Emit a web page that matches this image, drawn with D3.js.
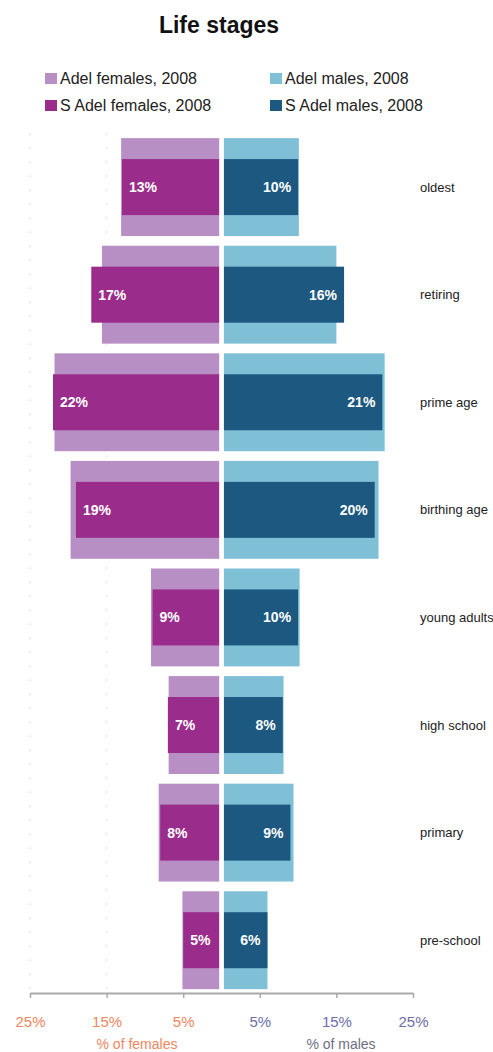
<!DOCTYPE html>
<html>
<head>
<meta charset="utf-8">
<script src="https://cdn.jsdelivr.net/npm/d3@7"></script>
<style>
  html, body { margin: 0; padding: 0; background: #fff; }
  svg { display: block; font-family: "Liberation Sans", Arial, sans-serif; }
</style>
</head>
<body>
<svg id="chart" width="493" height="1052"></svg>
<script>
// Life stages, share of population by sex (%)
const stages = ["oldest", "retiring", "prime age", "birthing age", "young adults", "high school", "primary", "pre-school"];
const adelFemales  = [13.1, 15.6, 21.8, 19.7, 9.2, 6.9, 8.2, 5.1];
const adelMales    = [10.1, 15.0, 21.3, 20.5, 10.2, 8.1, 9.4, 6.0];
const sAdelFemales = [13, 17, 22, 19, 9, 7, 8, 5];
const sAdelMales   = [10, 16, 21, 20, 10, 8, 9, 6];
const axisTicks = [-25, -15, -5, 5, 15, 25];
const legendNames = ["Adel females, 2008", "Adel males, 2008", "S Adel females, 2008", "S Adel males, 2008"];

const colors = {
  adelF: "#b78fc4",
  sAdelF: "#9a2c8b",
  adelM: "#80c0d7",
  sAdelM: "#1c5880",
  femaleAxis: "#ee8660",
  maleAxis: "#6d6dab"
};

const svg = d3.select("#chart");
const plotTop = 133.3, plotBottom = 994;

const x = d3.scaleLinear().domain([-25, 25]).range([30, 413]);
const y = d3.scaleBand().domain(stages).range([plotTop, plotBottom])
  .paddingInner(0.09).paddingOuter(0.045);
const innerRatio = 0.572;

// Title
svg.append("text")
  .attr("x", 219).attr("y", 33)
  .attr("text-anchor", "middle")
  .attr("font-size", 23).attr("font-weight", "bold").attr("fill", "#111")
  .text("Life stages");

// Legend
const legendItems = [
  { name: legendNames[0], color: colors.adelF, lx: 45, ly: 73 },
  { name: legendNames[1], color: colors.adelM, lx: 270, ly: 73 },
  { name: legendNames[2], color: colors.sAdelF, lx: 45, ly: 100 },
  { name: legendNames[3], color: colors.sAdelM, lx: 270, ly: 100 }
];
const lg = svg.append("g").selectAll("g").data(legendItems).join("g")
  .attr("transform", d => `translate(${d.lx},${d.ly})`);
lg.append("rect").attr("width", 12).attr("height", 11).attr("fill", d => d.color);
lg.append("text").attr("x", 15).attr("y", 10.5)
  .attr("font-size", 16).attr("fill", "#222").text(d => d.name);

// Faint guides on the female side
svg.append("g").selectAll("line").data([-25, -15]).join("line")
  .attr("x1", d => x(d)).attr("x2", d => x(d))
  .attr("y1", plotTop).attr("y2", plotBottom - 4)
  .attr("stroke", "#e4e4e4").attr("stroke-width", 1.5)
  .attr("stroke-dasharray", "2,12");

const rows = stages.map((s, i) => ({
  stage: s,
  adelF: adelFemales[i], adelM: adelMales[i],
  sAdelF: sAdelFemales[i], sAdelM: sAdelMales[i]
}));

const bars = svg.append("g");
const bw = y.bandwidth();
const ih = bw * innerRatio;
const io = (bw - ih) / 2;

// Adelaide (wide, light) bars
bars.selectAll(".adelF").data(rows).join("rect").attr("class", "adelF")
  .attr("x", d => x(-d.adelF)).attr("width", d => x(0) - x(-d.adelF))
  .attr("y", d => y(d.stage)).attr("height", bw).attr("fill", colors.adelF);
bars.selectAll(".adelM").data(rows).join("rect").attr("class", "adelM")
  .attr("x", x(0)).attr("width", d => x(d.adelM) - x(0))
  .attr("y", d => y(d.stage)).attr("height", bw).attr("fill", colors.adelM);

// South Adelaide (narrow, dark) bars
bars.selectAll(".sAdelF").data(rows).join("rect").attr("class", "sAdelF")
  .attr("x", d => x(-d.sAdelF)).attr("width", d => x(0) - x(-d.sAdelF))
  .attr("y", d => y(d.stage) + io).attr("height", ih).attr("fill", colors.sAdelF);
bars.selectAll(".sAdelM").data(rows).join("rect").attr("class", "sAdelM")
  .attr("x", x(0)).attr("width", d => x(d.sAdelM) - x(0))
  .attr("y", d => y(d.stage) + io).attr("height", ih).attr("fill", colors.sAdelM);

// White divider between the two halves
svg.append("rect")
  .attr("x", x(0) - 2.3).attr("width", 4.7)
  .attr("y", plotTop).attr("height", plotBottom - plotTop - 1)
  .attr("fill", "#fff");

// Value labels inside dark bars
const labels = svg.append("g").attr("font-size", 14).attr("font-weight", "bold").attr("fill", "#fff");
labels.selectAll(".lf").data(rows).join("text").attr("class", "lf")
  .attr("x", d => x(-d.sAdelF) + 7)
  .attr("y", d => y(d.stage) + bw / 2)
  .attr("dy", "0.36em")
  .text(d => d3.format(".0f")(d.sAdelF) + "%");
labels.selectAll(".lm").data(rows).join("text").attr("class", "lm")
  .attr("x", d => x(d.sAdelM) - 7)
  .attr("y", d => y(d.stage) + bw / 2)
  .attr("dy", "0.36em")
  .attr("text-anchor", "end")
  .text(d => d3.format(".0f")(d.sAdelM) + "%");

// Stage names
svg.append("g").selectAll("text").data(stages).join("text")
  .attr("x", 420)
  .attr("y", d => y(d) + bw / 2)
  .attr("dy", "0.35em")
  .attr("font-size", 13).attr("fill", "#222")
  .text(d => d);

// Bottom axis
const axis = svg.append("g")
  .attr("transform", `translate(0,${plotBottom - 1})`)
  .call(d3.axisBottom(x).tickValues(axisTicks).tickSize(5).tickSizeOuter(0).tickPadding(18)
    .tickFormat(d => Math.abs(d) + "%"));
axis.select(".domain").attr("stroke", "#a9a9a9").attr("stroke-width", 2);
axis.selectAll(".tick line").attr("stroke", "#a9a9a9").attr("stroke-width", 1.5);
axis.selectAll(".tick text")
  .attr("font-size", 15)
  .attr("font-family", "'Liberation Sans', Arial, sans-serif")
  .attr("fill", d => d < 0 ? colors.femaleAxis : colors.maleAxis);

svg.append("text")
  .attr("x", 137).attr("y", 1049)
  .attr("text-anchor", "middle").attr("font-size", 14)
  .attr("fill", colors.femaleAxis)
  .text("% of females");
svg.append("text")
  .attr("x", 341).attr("y", 1049)
  .attr("text-anchor", "middle").attr("font-size", 14)
  .attr("fill", "#6e6e82")
  .text("% of males");
</script>
</body>
</html>
